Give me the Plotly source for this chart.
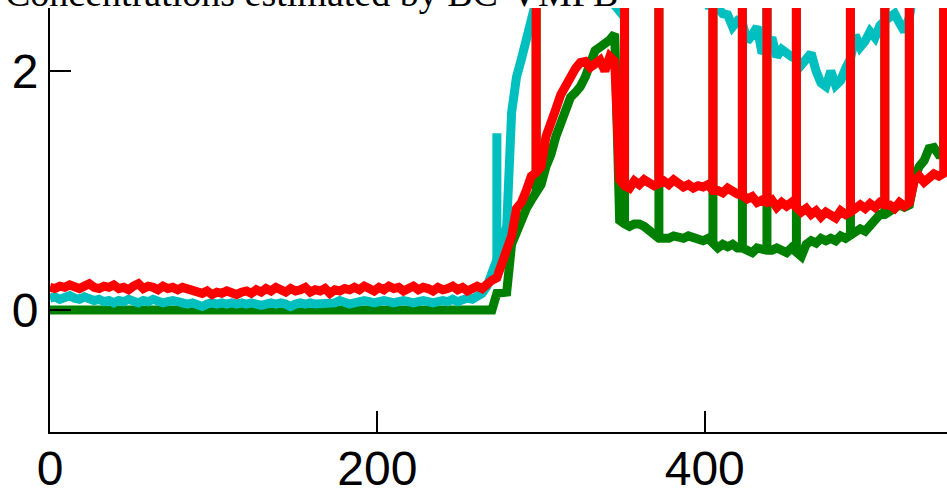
import plotly.graph_objects as go

# sample index (time step) of each reading
x_samples = list(range(0, 550, 3))

# ---- red series ----
red_base = [0.19, 0.18, 0.2, 0.19, 0.21, 0.19, 0.18, 0.2, 0.22, 0.19,
            0.18, 0.2, 0.19, 0.21, 0.18, 0.19, 0.17, 0.2, 0.22, 0.18,
            0.2, 0.19, 0.17, 0.2, 0.18, 0.19, 0.17, 0.19, 0.18, 0.16,
            0.15, 0.14, 0.16, 0.13, 0.15, 0.14, 0.16, 0.15, 0.13, 0.15, 0.16, 0.14, 0.17, 0.15,
            0.18, 0.16, 0.19, 0.17, 0.15, 0.18, 0.16, 0.17, 0.19, 0.15, 0.17, 0.16, 0.18, 0.14, 0.17, 0.16, 0.18, 0.17,
            0.19, 0.17, 0.2, 0.18, 0.16, 0.19, 0.17, 0.2, 0.18, 0.19, 0.16, 0.18, 0.2, 0.17,
            0.19, 0.18, 0.16, 0.19, 0.17, 0.18, 0.2, 0.17, 0.19, 0.16, 0.18, 0.2, 0.18, 0.22]
red_rise = [0.25, 0.27, 0.38, 0.5, 0.62, 0.85, 0.9, 1.0, 1.12, 1.15, 1.2, 1.45, 1.6,
            1.68, 1.8, 1.88, 1.95, 2.02, 2.07, 2.08, 2.03, 2.07, 2.09, 2.0, 2.12, 2.08]
red_late = [1.09, 1.04, 1.02, 1.08, 1.05, 1.09, 1.07, 1.04, 1.06, 1.08,
            1.05, 1.09, 1.06, 1.03, 1.05, 1.02, 1.04, 1.03, 1.05, 1.0,
            1.0, 0.98, 1.02, 0.99, 0.97, 0.96, 0.93, 0.95, 0.9, 0.92,
            0.9, 0.92, 0.86, 0.9, 0.87, 0.9, 0.85, 0.82, 0.85, 0.8,
            0.83, 0.78, 0.82, 0.8, 0.77, 0.83, 0.8, 0.82, 0.84, 0.88,
            0.85, 0.89, 0.86, 0.9, 0.88, 0.88, 0.85, 0.9, 0.87, 0.9,
            1.08, 1.12, 1.07, 1.1, 1.14, 1.12, 1.15, 1.17]

# ---- green series ----
green_base = [0, 0, 0, 0, 0, 0, 0, 0, 0, 0, 0, 0, 0, 0, 0, 0, 0, 0, 0, 0,
              0, 0, 0, 0, 0, 0, 0, 0, 0, 0, 0, 0, 0, 0, 0, 0, 0, 0, 0, 0,
              0, 0, 0, 0, 0, 0, 0, 0, 0, 0, 0, 0, 0, 0, 0, 0, 0, 0, 0, 0,
              0, 0, 0, 0, 0, 0, 0, 0, 0, 0, 0, 0, 0, 0, 0, 0, 0, 0, 0, 0,
              0, 0, 0, 0, 0, 0, 0, 0, 0, 0, 0]
green_rise = [0.14, 0.14, 0.15, 0.55, 0.65, 0.78, 0.85, 0.92, 0.98, 1.05, 1.2, 1.3, 1.45,
              1.55, 1.68, 1.78, 1.82, 1.87, 1.95, 2.05, 2.17, 2.2, 2.22, 2.26, 2.31]
green_late = [0.75, 0.72, 0.7, 0.72, 0.72, 0.7, 0.66, 0.62, 0.6, 0.6,
              0.6, 0.62, 0.6, 0.6, 0.62, 0.6, 0.6, 0.58, 0.6, 0.55,
              0.52, 0.55, 0.53, 0.55, 0.52, 0.52, 0.5, 0.48, 0.52, 0.5,
              0.5, 0.5, 0.52, 0.5, 0.48, 0.52, 0.48, 0.45, 0.55, 0.58,
              0.56, 0.6, 0.58, 0.6, 0.58, 0.62, 0.6, 0.63, 0.65, 0.68,
              0.66, 0.7, 0.75, 0.8, 0.8, 0.82, 0.85, 0.88, 0.86, 0.88,
              1.1, 1.2, 1.25, 1.35, 1.36, 1.3, 1.3, 1.3]

# ---- cyan series ----
cyan_base = [0.1, 0.11, 0.09, 0.1, 0.12, 0.1, 0.09, 0.11, 0.1, 0.08, 0.09,
             0.07, 0.08, 0.06, 0.08, 0.07, 0.09, 0.07, 0.06, 0.08, 0.07, 0.09, 0.08, 0.06, 0.07, 0.08, 0.07, 0.06,
             0.05, 0.06, 0.05, 0.03, 0.05, 0.06, 0.05, 0.06, 0.05, 0.06, 0.05, 0.06, 0.05, 0.06, 0.05,
             0.04, 0.05, 0.06, 0.05, 0.06, 0.05, 0.03, 0.05, 0.06, 0.05, 0.06, 0.05, 0.05, 0.06, 0.05,
             0.06, 0.08, 0.07, 0.05, 0.06, 0.07, 0.08, 0.07, 0.06, 0.07, 0.08, 0.07, 0.06, 0.07, 0.08,
             0.07, 0.06, 0.07, 0.08, 0.07, 0.06, 0.07, 0.08, 0.07, 0.09, 0.07, 0.08, 0.1, 0.09, 0.12]
cyan_rise = [0.14, 0.2, 0.3, 0.42, 0.58, 0.7, 1.65, 1.95, 2.1, 2.28, 2.45, 2.65,
             2.75, 2.8, 2.85, 2.9, 2.85, 2.9, 2.95, 2.9, 2.85, 2.9, 2.8, 2.85, 2.75, 2.7, 2.65,
             2.55, 2.5,
             2.62, 2.7, 2.75, 2.8, 2.85, 2.8, 2.85, 2.9, 2.85, 2.8, 2.85, 2.8, 2.75, 2.8, 2.7, 2.68]
cyan_late = [2.62, 2.55, 2.55, 2.53, 2.48, 2.47, 2.37, 2.42, 2.4, 2.25, 2.3, 2.37, 2.15,
             2.2, 2.28, 2.12, 2.18, 2.14, 2.12, 2.1, 2.05, 2.1, 2.15, 2.0, 1.9, 1.87, 2.0,
             1.88, 1.92, 2.02, 2.1, 2.3, 2.2, 2.25, 2.33, 2.28, 2.38, 2.42, 2.45, 2.48, 2.4,
             2.33, 2.45, 2.7, 2.75, 2.8, 2.75, 2.8, 2.85, 2.8, 2.85]

red = red_base + red_rise + red_late
green = green_base + green_rise + green_late
cyan = cyan_base + cyan_rise + cyan_late
assert len(red) == len(x_samples), len(red)
assert len(green) == len(x_samples), len(green)
assert len(cyan) == len(x_samples), len(cyan)

# outlier readings (shared by all estimates) and their value
outlier_x = [297, 351, 372, 405, 423, 438, 456, 489, 510, 525, 546]
outlier_value = 4.0
cyan_outlier_x = [273]
cyan_outlier_value = 1.48

x_ticks = [0, 200, 400]
y_ticks = [0, 2]

LW = 9
series = [("green", green, "#008000", []),
          ("cyan", cyan, "#00BFBF", [(s, cyan_outlier_value) for s in cyan_outlier_x]),
          ("red", red, "#FF0000", [])]

fig = go.Figure()
for name, vals, col, extra in series:
    fig.add_trace(go.Scatter(x=x_samples, y=vals, mode="lines",
                             line=dict(color=col, width=LW), showlegend=False, name=name))
    sx, sy = [], []
    for s, top in [(s, outlier_value) for s in outlier_x] + extra:
        i = x_samples.index(s)
        sx += [s, s, None]
        sy += [vals[i], top, None]
    fig.add_trace(go.Scatter(x=sx, y=sy, mode="lines",
                             line=dict(color=col, width=LW), showlegend=False, name=name))

axis_common = dict(showline=True, linecolor="black", linewidth=2, ticks="inside",
                   ticklen=21, tickwidth=2, tickcolor="black", showgrid=False,
                   zeroline=False, automargin=False,
                   tickfont=dict(family="Liberation Sans", size=48, color="black"))

fig.update_layout(
    width=947, height=493,
    margin=dict(l=50, r=0, t=8, b=61),
    paper_bgcolor="white", plot_bgcolor="white",
    xaxis=dict(range=[0, 548], tickvals=x_ticks, ticklabelstandoff=-7, **axis_common),
    yaxis=dict(range=[-1.02, 2.527], tickvals=y_ticks, **axis_common),
    annotations=[dict(text="Concentrations estimated by BC-VMFB", xref="paper", yref="paper",
                      x=-47 / 897, y=1, xanchor="left", yanchor="bottom", yshift=-8,
                      showarrow=False,
                      font=dict(family="Liberation Serif", size=38, color="black"))],
)

fig.write_html("out.html")
